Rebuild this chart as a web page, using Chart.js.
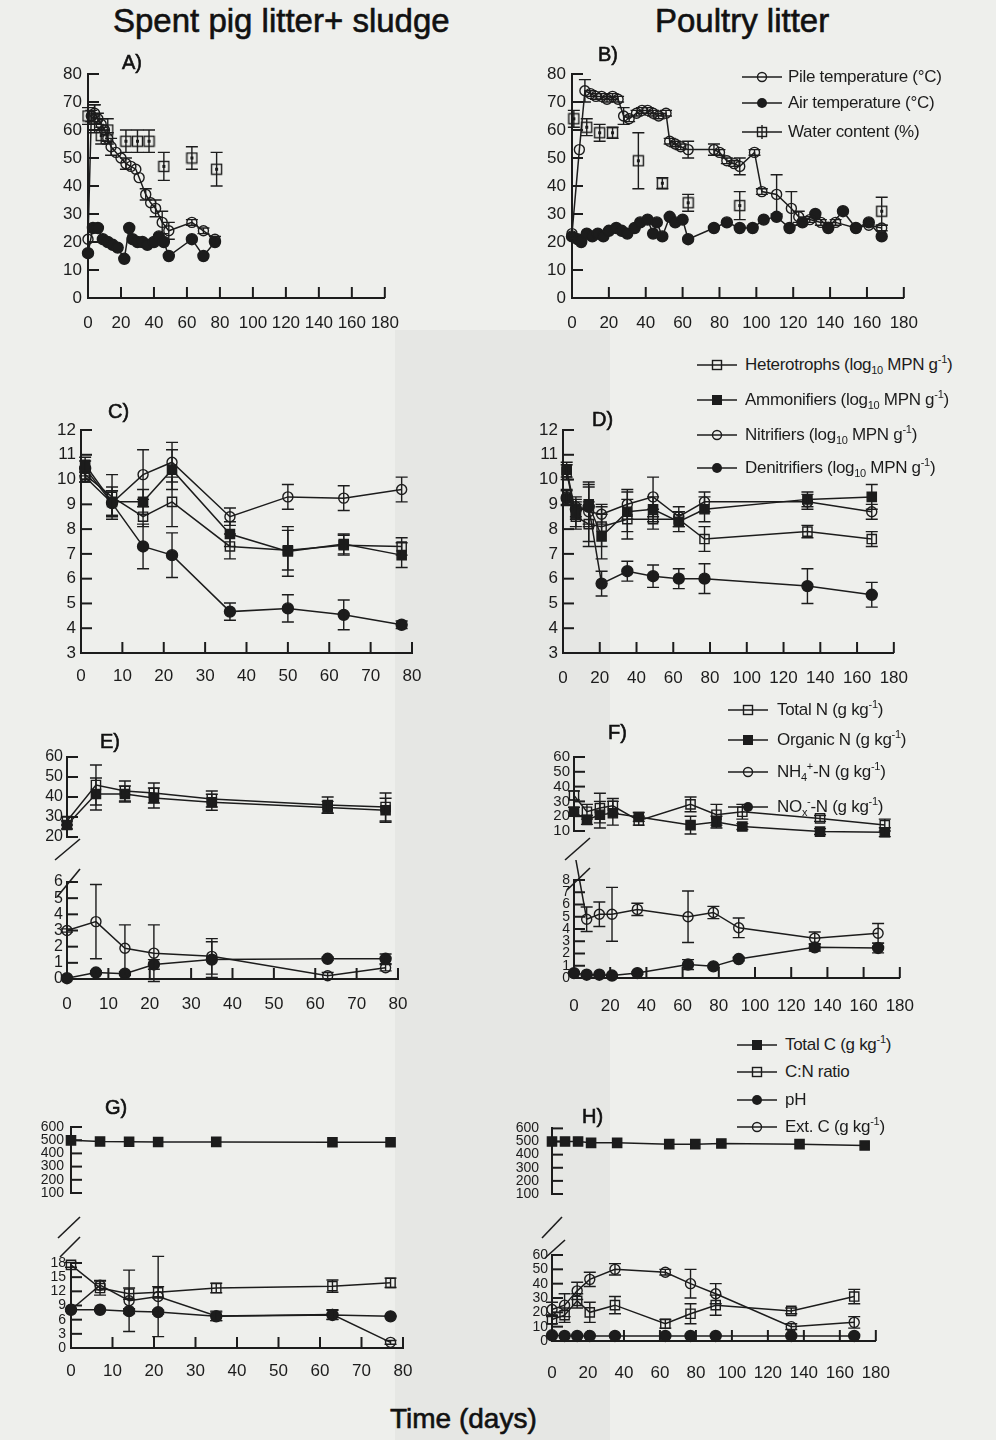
<!DOCTYPE html>
<html>
<head>
<meta charset="utf-8">
<script src="https://cdn.jsdelivr.net/npm/chart.js@4.4.0/dist/chart.umd.min.js"></script>
<style>
  body { margin: 0; width: 996px; height: 1440px; position: relative; overflow: hidden;
         background: #eeefec; font-family: "Liberation Sans", Arial, sans-serif; color: #1c1c1c; }
  canvas { position: absolute; }
  .t { position: absolute; white-space: nowrap; line-height: 1; color: #111; -webkit-text-stroke: 0.6px #111; }
  .lg { position: absolute; white-space: nowrap; font-size: 17px; line-height: 1; letter-spacing: -0.3px; }
  .lg sub, .lg sup { font-size: 11px; line-height: 0; }
  .band { position: absolute; left: 395px; top: 330px; width: 215px; height: 1110px; background: rgba(0,0,0,0.03); }
</style>
</head>
<body>
<div class="band"></div>
<script>
// Composting panels: spent pig litter + sludge (left) vs poultry litter (right)
const ink = '#1c1c1c';
const fam = '"Liberation Sans", Arial, sans-serif';

// ---- A) pig litter: temperatures and water content
const pileDaysA = [0, 2, 4, 6, 8, 10, 12, 14, 17, 20, 23, 26, 29, 31, 35, 38, 41, 45, 49, 63, 70, 77];
const pileA = [21, 65, 66, 64, 62, 60, 57, 54, 52, 50, 48, 47, 46, 43, 37, 34, 32, 27, 24, 27, 24, 21];
const pileErrA = [0, 2, 3, 2, 2, 0, 2, 3, 0, 0, 2, 0, 0, 0, 2, 0, 3, 4, 3, 1, 1, 1];
const airDaysA = [0, 3, 6, 9, 12, 15, 18, 22, 25, 27, 30, 33, 36, 40, 43, 46, 49, 63, 70, 77];
const airA = [16, 25, 25, 21, 20, 19, 18, 14, 25, 21, 20, 20, 19, 20, 22, 20, 15, 21, 15, 20];
const waterDaysA = [0, 4, 8, 12, 23, 30, 37, 46, 63, 78];
const waterA = [65, 64, 58, 60, 56, 56, 56, 47, 50, 46];
const waterErrA = [3, 5, 3, 4, 4, 4, 4, 5, 4, 6];

// ---- B) poultry litter: temperatures and water content
const pileDaysB = [0, 4, 7, 10, 13, 16, 19, 22, 25, 28, 31, 35, 38, 41, 44, 47, 51, 53, 56, 59, 63,
                   77, 80, 84, 88, 91, 99, 103, 111, 119, 123, 129, 135, 143, 154, 161, 168];
const pileB = [23, 53, 74, 73, 72, 72, 71, 72, 71, 65, 64, 66, 67, 67, 66, 65, 66, 56, 55, 54, 53,
               53, 52, 49, 48, 47, 52, 38, 37, 32, 29, 28, 27, 27, 25, 26, 25];
const pileErrB = [0, 0, 4, 1, 1, 1, 1, 1, 1, 3, 1, 1, 1, 1, 1, 1, 1, 1, 1, 1, 3,
                  2, 1, 1, 1, 3, 1, 1, 7, 6, 2, 1, 1, 1, 0, 0, 1];
const airDaysB = [0, 3, 5, 8, 11, 14, 17, 20, 24, 27, 30, 34, 37, 41, 44, 46, 49, 53, 56, 60,
                  63, 77, 84, 91, 98, 104, 111, 118, 125, 132, 139, 147, 154, 161, 168];
const airB = [22, 21, 20, 23, 22, 23, 22, 24, 25, 24, 23, 25, 27, 28, 23, 27, 22, 29, 27, 28,
              21, 25, 27, 25, 25, 28, 29, 25, 27, 30, 25, 31, 25, 27, 22];
const waterDaysB = [1, 8, 15, 22, 36, 49, 63, 91, 168];
const waterB = [64, 61, 59, 59, 49, 41, 34, 33, 31];
const waterErrB = [3, 3, 3, 2, 10, 2, 3, 5, 5];

// ---- C) pig litter: microbial counts (log10 MPN g-1)
const daysC = [1, 7.5, 15, 22, 36, 50, 63.5, 77.5];
const hetC = [10.2, 9.3, 8.5, 9.1, 7.3, 7.15, 7.35, 7.3];
const hetErrC = [0.3, 0.9, 0.4, 1.0, 0.5, 0.8, 0.4, 0.35];
const ammC = [10.6, 9.1, 9.1, 10.4, 7.8, 7.1, 7.4, 6.95];
const ammErrC = [0.3, 0.6, 0.5, 0.8, 0.5, 1.0, 0.4, 0.5];
const nitC = [10.1, 9.05, 10.2, 10.7, 8.5, 9.3, 9.25, 9.6];
const nitErrC = [0.2, 0.5, 1.0, 0.8, 0.35, 0.5, 0.5, 0.5];
const denC = [10.45, 9.05, 7.3, 6.95, 4.67, 4.8, 4.54, 4.14];
const denErrC = [0.3, 0.5, 0.9, 0.9, 0.35, 0.55, 0.6, 0.15];

// ---- D) poultry litter: microbial counts
const daysD = [2, 7, 14, 21, 35, 49, 63, 77, 133, 168];
const hetD = [10.3, 8.5, 8.2, 8.1, 8.4, 8.4, 8.4, 7.6, 7.9, 7.6];
const hetErrD = [0.3, 0.5, 0.9, 0.8, 0.8, 0.4, 0.3, 0.5, 0.25, 0.3];
const ammD = [10.4, 8.6, 9.0, 7.7, 8.7, 8.8, 8.3, 8.8, 9.2, 9.3];
const ammErrD = [0.3, 0.5, 0.8, 0.9, 0.8, 0.5, 0.4, 0.5, 0.3, 0.5];
const nitD = [9.3, 8.9, 8.7, 8.6, 9.0, 9.3, 8.5, 9.1, 9.1, 8.7];
const nitErrD = [0.3, 0.4, 1.2, 0.4, 0.6, 0.8, 0.4, 0.4, 0.3, 0.3];
const denD = [9.25, 8.8, 8.9, 5.8, 6.3, 6.1, 6.0, 6.0, 5.7, 5.35];
const denErrD = [0.3, 0.4, 0.8, 0.5, 0.4, 0.45, 0.4, 0.6, 0.7, 0.5];

// ---- E) pig litter: nitrogen (g kg-1)
const daysE = [0, 7, 14, 21, 35, 63, 77];
const totNE = [28, 46, 43, 42, 39, 36, 35];
const totNErrE = [2, 10, 5, 5, 4, 4, 7];
const orgNE = [26, 41.5, 41.5, 39.5, 37.4, 34.8, 33.4];
const orgNErrE = [2, 8, 4, 5, 4, 3, 6];
const nh4E = [3.0, 3.55, 1.9, 1.6, 1.4, 0.2, 0.7];
const nh4ErrE = [0.1, 2.3, 1.45, 1.75, 1.1, 0.2, 0.2];
const noxE = [0.05, 0.4, 0.33, 0.9, 1.2, 1.25, 1.25];
const noxErrE = [0.05, 0.1, 0.1, 0.3, 1.1, 0.1, 0.3];

// ---- F) poultry litter: nitrogen
const daysF = [0, 7, 14, 21, 35, 63, 77, 91, 133, 168];
const totNF = [34, 23, 25.5, 27, 17, 28, 21, 23, 18.5, 14];
const totNErrF = [3, 5, 10, 5, 3, 5, 7, 5, 2, 4];
const orgNF = [23, 17.5, 21, 22, 19.5, 14, 16, 13, 9.6, 9.2];
const orgNErrF = [3, 3, 9, 8, 3, 6, 4, 2, 2, 3];
const nh4F = [10.5, 4.8, 5.2, 5.2, 5.6, 5.0, 5.35, 4.1, 3.25, 3.65];
const nh4ErrF = [0, 1.0, 1.0, 2.2, 0.5, 2.1, 0.5, 0.8, 0.5, 0.8];
const noxF = [0.4, 0.27, 0.27, 0.2, 0.4, 1.1, 0.95, 1.55, 2.5, 2.45];
const noxErrF = [0.05, 0.05, 0.05, 0.05, 0.1, 0.4, 0.1, 0.15, 0.3, 0.4];

// ---- G) pig litter: carbon, C:N, pH
const daysG = [0, 7, 14, 21, 35, 63, 77];
const totCG = [499, 490, 488, 486, 487, 485, 485];
const cnG = [17.6, 12.7, 11.5, 11.8, 12.7, 13.1, 13.8];
const cnErrG = [0.5, 1.5, 1.2, 1.2, 1.0, 1.3, 1.0];
const phG = [8.1, 8.1, 7.8, 7.6, 6.7, 7.0, 6.7];
const phErrG = [0.1, 0.2, 0.5, 0.4, 0.9, 1.0, 0.1];
const extCG = [8.1, 13.3, 10.0, 10.9, 6.8, 7.1, 1.2];
const extCErrG = [0.2, 1.0, 6.5, 8.5, 1.0, 1.0, 0.4];

// ---- H) poultry litter: carbon, C:N, pH
const daysH = [0, 7, 14, 21, 35, 63, 77, 91, 133, 168];
const totCH = [500, 500, 500, 490, 490, 480, 480, 485, 480, 470];
const cnH = [15, 18, 28, 20, 25, 12, 19, 25, 21, 31];
const cnErrH = [3, 5, 5, 7, 6, 3, 7, 7, 2, 5];
const phH = [4, 3.5, 3.5, 3.5, 3.5, 3.5, 3.5, 3.5, 3.5, 3.5];
const extCH = [22, 25, 35, 43, 50, 48, 40, 33, 10, 13];
const extCErrH = [5, 8, 6, 5, 4, 2, 10, 7, 2, 4];

// square with a dot in the middle (water content marker)
const dotSquare = (function () {
    const c = document.createElement('canvas');
    c.width = 13; c.height = 13;
    const x = c.getContext('2d');
    x.strokeStyle = ink; x.lineWidth = 1.4;
    x.strokeRect(1.5, 1.5, 10, 10);
    x.fillStyle = ink;
    x.fillRect(5, 5, 3, 3);
    return c;
})();

// ticks pointing into the plot (one plugin per chart)
function innerTicks(hasX, len) {
    return {
        id: 'innerTicks',
        afterDraw(chart) {
            const ctx = chart.ctx, ys = chart.scales.y, xs = chart.scales.x;
            const area = chart.chartArea;
            ctx.save();
            ctx.strokeStyle = ink;
            ctx.lineWidth = 2;
            ys.ticks.forEach(t => {
                if (hasX && t.value === ys.min) return;
                const p = ys.getPixelForValue(t.value);
                ctx.beginPath(); ctx.moveTo(area.left, p); ctx.lineTo(area.left + len, p); ctx.stroke();
            });
            if (hasX) {
                xs.ticks.forEach(t => {
                    if (t.value === xs.min) return;
                    const p = xs.getPixelForValue(t.value);
                    ctx.beginPath(); ctx.moveTo(p, area.bottom); ctx.lineTo(p, area.bottom - len); ctx.stroke();
                });
            }
            ctx.restore();
        }
    };
}

// vertical error bars with caps
const errorBars = {
    id: 'errorBars',
    afterDatasetsDraw(chart) {
        const ctx = chart.ctx, ys = chart.scales.y;
        ctx.save();
        ctx.strokeStyle = ink;
        ctx.lineWidth = 1.4;
        chart.data.datasets.forEach((ds, i) => {
            if (!ds.errors) return;
            chart.getDatasetMeta(i).data.forEach((pt, j) => {
                const e = ds.errors[j];
                if (!e) return;
                const v = ds.data[j].y;
                const a = ys.getPixelForValue(v + e), b = ys.getPixelForValue(v - e);
                ctx.beginPath();
                ctx.moveTo(pt.x, a); ctx.lineTo(pt.x, b);
                ctx.moveTo(pt.x - 6, a); ctx.lineTo(pt.x + 6, a);
                ctx.moveTo(pt.x - 6, b); ctx.lineTo(pt.x + 6, b);
                ctx.stroke();
            });
        });
        ctx.restore();
    }
};

function series(days, vals, mark, errs, noLine) {
    const open = mark === 'oc' || mark === 'os' || mark === 'sd';
    const round = mark === 'oc' || mark === 'fc';
    return {
        data: days.map((d, i) => ({ x: d, y: vals[i] })),
        errors: errs || null,
        showLine: !noLine,
        borderColor: ink,
        borderWidth: 1.5,
        pointStyle: mark === 'sd' ? dotSquare : (round ? 'circle' : 'rect'),
        pointRadius: round ? (open ? 5 : 5.5) : 6.5,
        pointBackgroundColor: open ? 'rgba(0,0,0,0)' : ink,
        pointBorderColor: ink,
        pointBorderWidth: 1.4,
        tension: 0,
        clip: false
    };
}

function panel(g, datasets) {
    const padL = 60, padR = 25, padT = 20, padB = g.xAxis ? 45 : 20;
    const c = document.createElement('canvas');
    c.width = g.right - g.left + padL + padR;
    c.height = g.bottom - g.top + padT + padB;
    c.style.left = (g.left - padL) + 'px';
    c.style.top = (g.top - padT) + 'px';
    document.body.appendChild(c);
    new Chart(c, {
        type: 'line',
        data: { datasets },
        options: {
            responsive: false, animation: false, devicePixelRatio: 1, events: [],
            layout: { padding: { left: 0, right: padR, top: padT, bottom: g.xAxis ? 0 : padB } },
            plugins: { legend: { display: false }, tooltip: { enabled: false } },
            scales: {
                x: {
                    type: 'linear', min: g.x[0], max: g.x[1], display: g.xAxis,
                    afterFit: s => { s.height = padB; },
                    grid: { display: false, drawTicks: false },
                    border: { color: ink, width: 2 },
                    ticks: { stepSize: g.x[2], autoSkip: false, maxRotation: 0, padding: g.xPad || 14,
                             color: ink, font: { family: fam, size: 17 } }
                },
                y: {
                    type: 'linear', min: g.y[0], max: g.y[1],
                    afterFit: s => { s.width = padL; },
                    grid: { display: false, drawTicks: false },
                    border: { color: ink, width: 2 },
                    ticks: { stepSize: g.y[2], autoSkip: false, padding: g.yPad || 5,
                             color: ink, font: { family: fam, size: g.yFont || 17 } }
                }
            }
        },
        plugins: [innerTicks(g.xAxis, 11), errorBars]
    });
}

// A
panel({ left: 88, right: 389, top: 74, bottom: 298, x: [0, 180, 20], y: [0, 80, 10], xAxis: true, xPad: 15, yPad: 6 }, [
    series(waterDaysA, waterA, 'sd', waterErrA, true),
    series(pileDaysA, pileA, 'oc', pileErrA),
    series(airDaysA, airA, 'fc')
]);
// B
panel({ left: 572, right: 908, top: 74, bottom: 298, x: [0, 180, 20], y: [0, 80, 10], xAxis: true, xPad: 15, yPad: 6 }, [
    series(waterDaysB, waterB, 'sd', waterErrB, true),
    series(pileDaysB, pileB, 'oc', pileErrB),
    series(airDaysB, airB, 'fc')
]);
// C
panel({ left: 81, right: 412, top: 430, bottom: 653, x: [0, 80, 10], y: [3, 12, 1], xAxis: true, xPad: 13, yPad: 5 }, [
    series(daysC, hetC, 'os', hetErrC),
    series(daysC, ammC, 'fs', ammErrC),
    series(daysC, nitC, 'oc', nitErrC),
    series(daysC, denC, 'fc', denErrC)
]);
// D
panel({ left: 563, right: 898, top: 430, bottom: 653, x: [0, 180, 20], y: [3, 12, 1], xAxis: true, xPad: 15, yPad: 5 }, [
    series(daysD, hetD, 'os', hetErrD),
    series(daysD, ammD, 'fs', ammErrD),
    series(daysD, nitD, 'oc', nitErrD),
    series(daysD, denD, 'fc', denErrD)
]);
// E (broken axis)
panel({ left: 67, right: 398, top: 757, bottom: 857, x: [0, 80, 10], y: [20, 60, 10], xAxis: false, yPad: 4, yFont: 16 }, [
    series(daysE, totNE, 'os', totNErrE),
    series(daysE, orgNE, 'fs', orgNErrE)
]);
panel({ left: 67, right: 398, top: 882, bottom: 979, x: [0, 80, 10], y: [0, 6, 1], xAxis: true, xPad: 15, yPad: 4, yFont: 16 }, [
    series(daysE, nh4E, 'oc', nh4ErrE),
    series(daysE, noxE, 'fc', noxErrE)
]);
// F (broken axis)
panel({ left: 574, right: 907, top: 757, bottom: 851, x: [0, 180, 20], y: [10, 60, 10], xAxis: false, yPad: 4, yFont: 15 }, [
    series(daysF, totNF, 'os', totNErrF),
    series(daysF, orgNF, 'fs', orgNErrF)
]);
panel({ left: 574, right: 907, top: 880, bottom: 978, x: [0, 180, 20], y: [0, 8, 1], xAxis: true, xPad: 18, yPad: 4, yFont: 14 }, [
    series(daysF, nh4F, 'oc', nh4ErrF),
    series(daysF, noxF, 'fc', noxErrF)
]);
// G (broken axis)
panel({ left: 71, right: 403, top: 1127, bottom: 1213, x: [0, 80, 10], y: [100, 600, 100], xAxis: false, yPad: 7, yFont: 14 }, [
    series(daysG, totCG, 'fs')
]);
panel({ left: 71, right: 403, top: 1263, bottom: 1348, x: [0, 80, 10], y: [0, 18, 3], xAxis: true, xPad: 13, yPad: 5, yFont: 14 }, [
    series(daysG, cnG, 'os', cnErrG),
    series(daysG, phG, 'fc', phErrG),
    series(daysG, extCG, 'oc', extCErrG)
]);
// H (broken axis)
panel({ left: 552, right: 887, top: 1127, bottom: 1214, x: [0, 180, 20], y: [100, 600, 100], xAxis: false, yPad: 13, yFont: 14 }, [
    series(daysH, totCH, 'fs')
]);
panel({ left: 552, right: 887, top: 1255, bottom: 1341, x: [0, 180, 20], y: [0, 60, 10], xAxis: true, xPad: 22, yPad: 4, yFont: 14 }, [
    series(daysH, cnH, 'os', cnErrH),
    series(daysH, phH, 'fc'),
    series(daysH, extCH, 'oc', extCErrH)
]);

// text, labels and legends
function text(str, left, cy, size) {
    const d = document.createElement('div');
    d.className = 't';
    d.style.left = left + 'px';
    d.style.top = (cy - size * 0.55) + 'px';
    d.style.fontSize = size + 'px';
    d.textContent = str;
    document.body.appendChild(d);
}
text('Spent pig litter+ sludge', 113, 22, 33);
text('Poultry litter', 655, 22, 33);
text('Time (days)', 390, 1420, 28);
[['A)', 122, 63], ['B)', 598, 55], ['C)', 108, 412], ['D)', 592, 420],
 ['E)', 100, 742], ['F)', 608, 733], ['G)', 105, 1108], ['H)', 582, 1117]]
    .forEach(p => text(p[0], p[1], p[2], 20));

const markers = {
    oc: '<circle cx="20" cy="8" r="4.5" fill="none" stroke="' + ink + '" stroke-width="1.4"/>',
    fc: '<circle cx="20" cy="8" r="5" fill="' + ink + '"/>',
    os: '<rect x="15.5" y="3.5" width="9" height="9" fill="none" stroke="' + ink + '" stroke-width="1.4"/>',
    fs: '<rect x="15" y="3" width="10" height="10" fill="' + ink + '"/>',
    sd: '<rect x="15.5" y="3.5" width="9" height="9" fill="none" stroke="' + ink + '" stroke-width="1.4"/>' +
        '<line x1="20" y1="1" x2="20" y2="15" stroke="' + ink + '" stroke-width="1.4"/>'
};
function legend(lineLeft, textLeft, cy, mark, html) {
    const s = document.createElementNS('http://www.w3.org/2000/svg', 'svg');
    s.setAttribute('width', 40); s.setAttribute('height', 16);
    s.style.position = 'absolute';
    s.style.left = lineLeft + 'px';
    s.style.top = (cy - 8) + 'px';
    s.innerHTML = '<line x1="0" y1="8" x2="40" y2="8" stroke="' + ink + '" stroke-width="1.6"/>' + markers[mark];
    document.body.appendChild(s);
    const d = document.createElement('div');
    d.className = 'lg';
    d.style.left = textLeft + 'px';
    d.style.top = (cy - 9) + 'px';
    d.innerHTML = html;
    document.body.appendChild(d);
}
const gkg = '(g kg<sup>-1</sup>)';
const mpn = '(log<sub>10</sub> MPN g<sup>-1</sup>)';
legend(742, 788, 77, 'oc', 'Pile temperature (°C)');
legend(742, 788, 103, 'fc', 'Air temperature (°C)');
legend(742, 788, 132, 'sd', 'Water content (%)');
legend(697, 745, 365, 'os', 'Heterotrophs ' + mpn);
legend(697, 745, 400, 'fs', 'Ammonifiers ' + mpn);
legend(697, 745, 435, 'oc', 'Nitrifiers ' + mpn);
legend(697, 745, 468, 'fc', 'Denitrifiers ' + mpn);
legend(728, 777, 710, 'os', 'Total N ' + gkg);
legend(728, 777, 740, 'fs', 'Organic N ' + gkg);
legend(728, 777, 772, 'oc', 'NH<sub>4</sub><sup>+</sup>-N ' + gkg);
legend(728, 777, 807, 'fc', 'NO<sub>x</sub><sup>-</sup>-N ' + gkg);
legend(737, 785, 1045, 'fs', 'Total C ' + gkg);
legend(737, 785, 1072, 'os', 'C:N ratio');
legend(737, 785, 1100, 'fc', 'pH');
legend(737, 785, 1127, 'oc', 'Ext. C ' + gkg);

// axis break marks
const brk = document.createElementNS('http://www.w3.org/2000/svg', 'svg');
brk.setAttribute('width', 996); brk.setAttribute('height', 1440);
brk.style.position = 'absolute'; brk.style.left = 0; brk.style.top = 0;
brk.innerHTML = [
    [55, 860, 80, 839], [57, 897, 80, 869],
    [565, 860, 590, 838], [567, 890, 590, 868],
    [58, 1238, 80, 1217], [60, 1257, 80, 1237],
    [542, 1238, 562, 1217], [545, 1258, 565, 1240]
].map(l => '<line x1="' + l[0] + '" y1="' + l[1] + '" x2="' + l[2] + '" y2="' + l[3] +
    '" stroke="' + ink + '" stroke-width="1.6"/>').join('');
document.body.appendChild(brk);
</script>
</body>
</html>
